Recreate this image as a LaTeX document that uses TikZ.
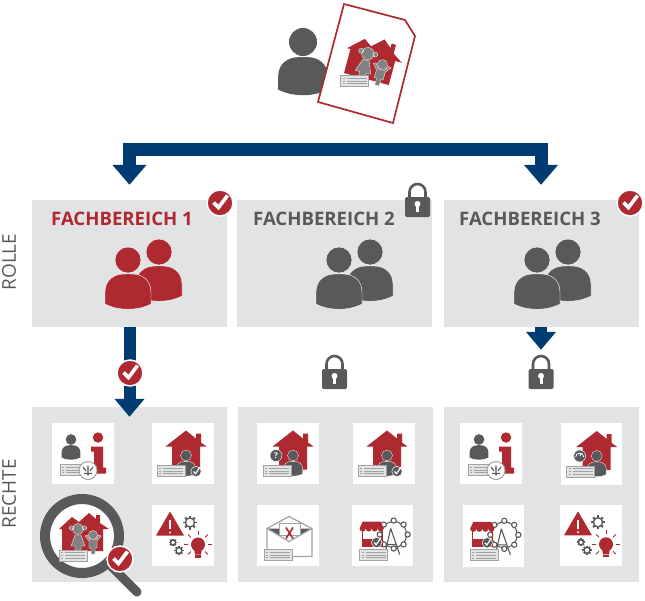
\documentclass[tikz,border=0pt]{standalone}
\usepackage{fontspec}
\setmainfont{Open Sans}
\usetikzlibrary{arrows.meta, positioning, calc}
\definecolor{navy}{HTML}{003C71}
\definecolor{rot}{HTML}{AE2A30}
\definecolor{dunkel}{HTML}{58595B}
\definecolor{panelgrau}{HTML}{E1E3E5}
\definecolor{formgrau}{HTML}{A0A2A4}
\tikzset{
  panel/.style={rectangle, fill=panelgrau, minimum width=195pt, inner sep=0pt},
  card/.style={rectangle, fill=white, minimum width=61.5pt, minimum height=61.5pt, inner sep=0pt},
  fbtitle/.style={font=\fontsize{18.6}{20}\selectfont\bfseries, inner sep=0pt},
  sidelabel/.style={font=\fontsize{19}{20}\selectfont, text=dunkel, rotate=90, inner sep=0pt},
  lockslot/.style={minimum width=25pt, minimum height=44pt, inner sep=0pt},
  badgeslot/.style={circle, minimum size=29pt, inner sep=0pt},
  flow/.style={-{Triangle[width=33pt, length=20pt]}, line width=13pt, draw=navy},
  flowthin/.style={-{Triangle[width=29pt, length=18pt]}, line width=12pt, draw=navy},
  pics/person/.style={code={
    \path[pic actions] (0,0) circle (13);
    \path[pic actions] (-23,44) -- (-23,32) .. controls (-23,20) and (-14,14) .. (-4,14)
      -- (4,14) .. controls (14,14) and (23,20) .. (23,32) -- (23,44)
      .. controls (10,51) and (-10,51) .. (-23,44) -- cycle;
  }},
  pics/crowd/.style={code={
    \pic[fill=#1, draw=white, line width=.4pt] at (31,-8) {person};
    \pic[fill=#1, draw=white, line width=.4pt] at (0,0) {person};
  }},
  pics/checkbadge/.style={code={
    \fill[rot, draw=white, line width=1.5pt] (0,0) circle (13);
    \draw[white, line width=3.6pt] (-6.5,-.5) -- (-1.5,4.5) -- (7.5,-7.5);
  }},
  pics/minicheck/.style={code={
    \fill[dunkel, draw=white, line width=.5pt] (0,0) circle (5.2);
    \draw[white, line width=1.2pt] (-2.5,0) -- (-.5,2.2) -- (4,-4.5);
  }},
  pics/lock/.style={code={
    \draw[dunkel, line width=2.6pt] (-8,-3) -- (-8,-8) arc[start angle=180, end angle=360, radius=8] -- (8,-3);
    \fill[dunkel, rounded corners=1.5pt] (-12.5,-3) rectangle (12.5,17);
    \fill[white] (0,4) circle (3);
    \fill[white] (-1.5,5) rectangle (1.5,11.5);
  }},
  pics/formcard/.style={code={
    \draw[formgrau, fill=panelgrau, line width=1pt] (-14,-5.5) rectangle (14,5.5);
    \foreach \y in {-2.8,0,2.8} {
      \draw[formgrau, line width=1pt] (-8,\y) -- (12,\y);
      \draw[formgrau, line width=1pt] (-12,\y) -- (-10,\y);
    }
  }},
  pics/redhouse/.style={code={
    \fill[rot] (-20.5,-7) -- (0,-23) -- (10,-15) -- (10,-20) -- (15,-20) -- (15,-11) -- (20.5,-7)
      -- (14,-7) -- (14,16) -- (-14,16) -- (-14,-7) -- cycle;
  }},
  pics/kidshouse/.style={code={
    \fill[rot] (-25,-6) -- (-12,-18) -- (-5,-13) -- (5,-22) -- (12,-16) -- (12,-20) -- (16,-20)
      -- (16,-12) -- (25,-6) -- (19,-6) -- (19,16) -- (-22,16) -- (-22,-6) -- cycle;
    \begin{scope}[fill=formgrau!80!black, draw=white, line width=.3pt]
      \filldraw (-12.5,-7) circle (2.2) (.5,-7) circle (2.2) (-6,-6) circle (5.5);
      \filldraw (-9,0) -- (-3,0) -- (1,11) -- (-3,11) -- (-3,15) -- (-9,15) -- (-9,11) -- (-13,11) -- cycle;
      \filldraw (9,0) circle (4.5);
      \filldraw (5,6) -- (1,1) -- (3,0) -- (6,4.5) -- (12,4.5) -- (15,0) -- (17,1) -- (13,6) -- (13,13)
        -- (11,13) -- (11,19) -- (7,19) -- (7,13) -- (5,13) -- cycle;
    \end{scope}
    \pic at (-11,20.5) {formcard};
  }},
  pics/gear/.style={code={
    \foreach \a in {0,45,...,315} \draw[dunkel, line width=1.9pt] (\a:4) -- (\a:7);
    \draw[dunkel, line width=1.4pt, fill=white] (0,0) circle (4.6);
  }},
  pics/bulb/.style={code={
    \fill[rot] (0,0) circle (7);
    \fill[rot] (-4,4) -- (4,4) -- (3,10) -- (-3,10) -- cycle;
    \fill[rot] (-2.6,10.8) rectangle (2.6,13);
    \foreach \a in {-90,-45,0,45,135,180,225} \draw[rot, line width=.9pt] (\a:10) -- (\a:14);
  }},
  pics/housecheck/.style={code={
    \pic at (3,0) {redhouse};
    \pic[fill=dunkel, draw=white, line width=.3pt, scale=.42] at (3,2) {person};
    \pic at (-12,17.5) {formcard};
    \pic at (13,18) {minicheck};
  }},
  pics/housequery/.style={code={
    \pic at (5,0) {redhouse};
    \pic[fill=dunkel, draw=white, line width=.3pt, scale=.42] at (5,2) {person};
    \fill[dunkel, draw=white, line width=.4pt] (-12,2) circle (6);
    \node[text=white, font=\fontsize{8}{8}\selectfont\bfseries, inner sep=0pt] (frage) at (-12,2) {?};
    \pic at (-11,17.5) {formcard};
  }},
  pics/housegauge/.style={code={
    \pic at (5,0) {redhouse};
    \pic[fill=dunkel, draw=white, line width=.3pt, scale=.42] at (5,2) {person};
    \fill[dunkel, draw=white, line width=.4pt] (-12,2) circle (6);
    \draw[white, line width=.8pt] (-16,3) arc[start angle=180, end angle=360, radius=4];
    \draw[white, line width=.8pt] (-12,2) -- (-10,-1);
    \pic at (-11,17.5) {formcard};
  }},
  pics/infoicon/.style={code={
    \pic[fill=dunkel, scale=.41] at (-12,-14) {person};
    \fill[rot] (15,-16) circle (5.2);
    \fill[rot] (8,-7) -- (20,-7) -- (20,14) -- (23,14) -- (23,20) -- (11,20) -- (11,-2) -- (8,-2) -- cycle;
    \pic at (-9,16.5) {formcard};
    \draw[formgrau, fill=white, line width=1pt] (5,17) circle (9);
    \draw[dunkel, line width=1.1pt] (5,12) -- (5,22) (0,13.5) -- (3,17.5) (10,13.5) -- (7,17.5) (1,20) -- (9,20);
  }},
  pics/alerticon/.style={code={
    \fill[rot, rounded corners=.5pt] (-13,-24) -- (1,0) -- (-27,0) -- cycle;
    \draw[white, line width=1.8pt] (-13,-15.5) -- (-13,-6.5);
    \fill[white] (-13,-3) circle (1.1);
    \pic at (7,-13) {gear};
    \pic[scale=.55] at (-10,7) {gear};
    \pic[scale=.65] at (-4,15) {gear};
    \pic at (15,9) {bulb};
  }},
  pics/mailicon/.style={code={
    \draw[formgrau, fill=white, line width=1.2pt] (-21,-7) -- (1,-19) -- (24,-7) -- (24,21) -- (-21,21) -- cycle;
    \fill[dunkel] (-20,-7) -- (-9,-7) -- (-9,0) -- cycle;
    \fill[dunkel] (23,-7) -- (12,-7) -- (12,0) -- cycle;
    \draw[formgrau, fill=white, line width=1pt] (-9,-12) rectangle (12,0);
    \draw[formgrau, line width=1.2pt] (-21,-7) -- (1,6) -- (24,-7);
    \draw[rot, line width=1.6pt] (-2,-8) -- (5,3) (5,-8) -- (-2,3);
    \pic at (-10,19.5) {formcard};
  }},
  pics/marketicon/.style={code={
    \draw[dunkel, line width=1pt] (11,-1) circle (13);
    \foreach \a in {0,45,...,315}
      \draw[dunkel, line width=1.1pt, fill=white] ($(11,-1)+(\a:14)$) circle (2.6);
    \draw[dunkel, line width=1.1pt] (8,-7) -- (2,19) (8,-7) -- (17,19) (4,9) -- (13,9);
    \fill[rot] (-20,-14) -- (-2,-14) -- (1,-7) -- (-23,-7) -- cycle;
    \foreach \x in {-20,-14,-8,-2} \fill[rot] (\x,-7) circle (3);
    \draw[rot, line width=1pt] (-20.5,-5) -- (-20.5,4) (-.5,-5) -- (-.5,4);
    \fill[rot] (-21,3) rectangle (0,11);
    \pic at (-6,7) {minicheck};
    \pic at (-9,19.5) {formcard};
  }},
}
\begin{document}
\begin{tikzpicture}[x=1pt, y=-1pt]
  \useasboundingbox (0,0) rectangle (645,600);

  % Rollen
  \node[panel, minimum height=127pt] (rolle1) at (129.5,263.5) {};
  \node[panel, minimum height=127pt] (rolle2) at (334.5,263.5) {};
  \node[panel, minimum height=127pt] (rolle3) at (541,263.5) {};
  \node[fbtitle, text=rot] (titel1) at (122,219) {FACHBEREICH 1};
  \node[fbtitle, text=dunkel] (titel2) at (324,219) {FACHBEREICH 2};
  \node[fbtitle, text=dunkel] (titel3) at (530,219) {FACHBEREICH 3};
  \pic at (128,260) {crowd=rot};
  \pic at (339,260) {crowd=dunkel};
  \pic at (537,260) {crowd=dunkel};

  % Rechte
  \node[panel, minimum height=175pt] (rechte1) at (129.5,494.5) {};
  \node[panel, minimum height=175pt] (rechte2) at (335,494.5) {};
  \node[panel, minimum height=175pt] (rechte3) at (541,494.5) {};
  \node[card] (info1) at (83,453.5) {};
  \node[card] (haus1) at (183,453.5) {};
  \node[card] (warn1) at (183,535.5) {};
  \node[card] (frage2) at (288,453.5) {};
  \node[card] (haus2) at (384,453.5) {};
  \node[card] (post2) at (288,535.5) {};
  \node[card] (markt2) at (382.7,535.5) {};
  \node[card] (info3) at (491,453.5) {};
  \node[card] (haus3) at (591.7,454) {};
  \node[card] (markt3) at (493.3,535.8) {};
  \node[card] (warn3) at (591,535.3) {};
  \pic at (info1) {infoicon};
  \pic at (haus1) {housecheck};
  \pic at (warn1) {alerticon};
  \pic at (frage2) {housequery};
  \pic at (haus2) {housecheck};
  \pic at (post2) {mailicon};
  \pic at (markt2) {marketicon};
  \pic at (info3) {infoicon};
  \pic at (haus3) {housegauge};
  \pic at (markt3) {marketicon};
  \pic at (warn3) {alerticon};

  \node[sidelabel] (rollelabel) at (9,262) {ROLLE};
  \node[sidelabel] (rechtelabel) at (9,494) {RECHTE};

  % Lupe
  \draw[dunkel, line width=9pt, line cap=round] (110,565) -- (137,592);
  \draw[dunkel, line width=10pt, fill=white] (82,536) circle (37);
  \pic at (84,535) {kidshouse};
  \pic at (120,559) {checkbadge};

  % Antrag oben
  \pic[fill=dunkel, scale=1.08] at (303,42) {person};
  \draw[rot, line width=1.7pt, fill=white] (344,4) -- (405,20) -- (415,36) -- (393,123) -- (318,102) -- cycle;
  \pic[scale=1.13, rotate=-15] at (372.7,62) {kidshouse};

  % Pfeile
  \coordinate (split) at (336,149);
  \draw[flow, shorten >=15pt] (split) -| (rolle1.north);
  \draw[flow, shorten >=15pt] (split) -| (rolle3.north);
  \node[badgeslot] (check1) at (130,373) {};
  \node[lockslot] (schloss2) at (334.5,372) {};
  \node[lockslot] (schloss3) at (541,372) {};
  \draw[flowthin, shorten >=-10pt] (rolle1.south) -- (rechte1.north);
  \draw[flowthin] (rolle3.south) -- (schloss3.north);

  \pic at (check1) {checkbadge};
  \pic at (schloss2) {lock};
  \pic at (schloss3) {lock};
  \pic at (220,203) {checkbadge};
  \pic at (630,203) {checkbadge};
  \pic at (417.5,200) {lock};
\end{tikzpicture}
\end{document}
